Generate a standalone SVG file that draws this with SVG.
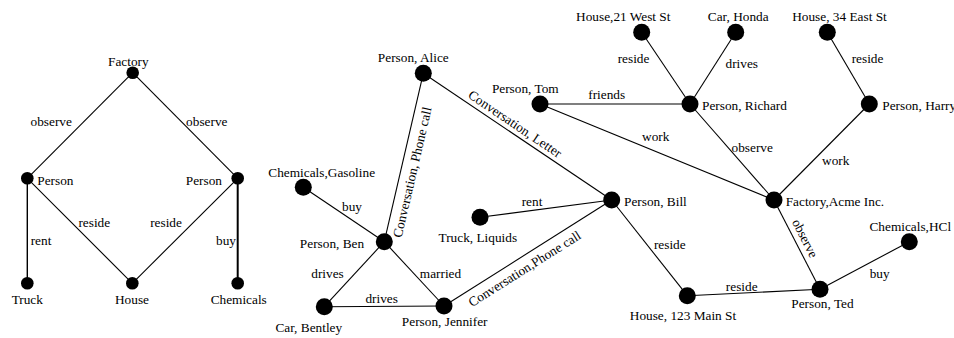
<svg xmlns="http://www.w3.org/2000/svg" width="954" height="338" viewBox="0 0 954 338">
<style>
  .e { stroke: #000; stroke-width: 1.1; fill: none; }
  .n { fill: #000; }
  text { font-family: "Liberation Serif", "Times New Roman", serif; font-size: 13.3px; fill: #000; }
  .m { text-anchor: middle; }
  .s { text-anchor: start; }
  .r { text-anchor: end; }
</style>
<rect width="954" height="338" fill="#fff"/>
<g id="connectors">
  <!-- left graph -->
  <line class="e" x1="132.7" y1="72.7" x2="27.3" y2="178.3"/>
  <line class="e" x1="132.7" y1="72.7" x2="237.7" y2="178.3"/>
  <line class="e" x1="27.3" y1="178.3" x2="27.3" y2="283.3" style="stroke-width:1.4"/>
  <line class="e" x1="27.3" y1="178.3" x2="132.3" y2="283.3"/>
  <line class="e" x1="237.7" y1="178.3" x2="132.3" y2="283.3"/>
  <line class="e" x1="237.7" y1="178.3" x2="237.7" y2="283.3" style="stroke-width:2"/>
  <!-- middle/right graph -->
  <line class="e" x1="423.3" y1="73.3" x2="384.3" y2="241.7"/>
  <line class="e" x1="423.3" y1="73.3" x2="611.7" y2="200"/>
  <line class="e" x1="540" y1="104" x2="690" y2="104"/>
  <line class="e" x1="540" y1="104" x2="774" y2="200"/>
  <line class="e" x1="303.3" y1="187.3" x2="384.3" y2="241.7"/>
  <line class="e" x1="384.3" y1="241.7" x2="324.3" y2="306.7"/>
  <line class="e" x1="384.3" y1="241.7" x2="444" y2="306"/>
  <line class="e" x1="324.3" y1="306.7" x2="444" y2="306"/>
  <line class="e" x1="444" y1="306" x2="611.7" y2="200"/>
  <line class="e" x1="480" y1="217.3" x2="611.7" y2="200"/>
  <line class="e" x1="611.7" y1="200" x2="687.3" y2="295.7"/>
  <line class="e" x1="641.7" y1="32.3" x2="690" y2="104"/>
  <line class="e" x1="735.7" y1="32.3" x2="690" y2="104"/>
  <line class="e" x1="690" y1="104" x2="774" y2="200"/>
  <line class="e" x1="827.3" y1="32.3" x2="869.3" y2="104"/>
  <line class="e" x1="869.3" y1="104" x2="774" y2="200"/>
  <line class="e" x1="774" y1="200" x2="820" y2="289.3"/>
  <line class="e" x1="687.3" y1="295.7" x2="820" y2="289.3"/>
  <line class="e" x1="820" y1="289.3" x2="909.3" y2="241.7"/>
  <!-- edge labels -->
  <text class="m" x="51.2" y="125.9">observe</text>
  <text class="m" x="206.8" y="125.9">observe</text>
  <text class="s" x="30.7" y="245.4">rent</text>
  <text class="m" x="94.3" y="226.7">reside</text>
  <text class="m" x="166" y="226.7">reside</text>
  <text class="r" x="236" y="245.4">buy</text>

  <text class="m" transform="translate(416.6,173.2) rotate(-76.96)">Conversation, Phone call</text>
  <text class="m" transform="translate(512.6,127.6) rotate(33.92)">Conversation, Letter</text>
  <text class="m" transform="translate(527.0,272.5) rotate(-32.29)">Conversation,Phone call</text>
  <text class="m" transform="translate(801.1,240.3) rotate(62.75)">observe</text>
  <text class="m" x="352" y="211">buy</text>
  <text class="m" x="327.5" y="278">drives</text>
  <text class="m" x="440.5" y="278">married</text>
  <text class="m" x="381.7" y="302.5">drives</text>
  <text class="m" x="532" y="206">rent</text>
  <text class="m" x="633.5" y="63">reside</text>
  <text class="m" x="741.8" y="68">drives</text>
  <text class="m" x="867.5" y="63">reside</text>
  <text class="m" x="606.7" y="99">friends</text>
  <text class="m" x="655.7" y="140.5">work</text>
  <text class="m" x="752.2" y="152">observe</text>
  <text class="m" x="835.7" y="165">work</text>
  <text class="m" x="669.8" y="249">reside</text>
  <text class="m" x="741.7" y="290.5">reside</text>
  <text class="m" x="879.7" y="277.5">buy</text>
</g>

<g id="factory"><circle class="n" cx="132.7" cy="72.7" r="6.3"/><text class="m" x="128.3" y="66">Factory</text></g>
<g id="person-left"><circle class="n" cx="27.3" cy="178.3" r="6.3"/><text class="s" x="37.3" y="185">Person</text></g>
<g id="person-right"><circle class="n" cx="237.7" cy="178.3" r="6.3"/><text class="r" x="222" y="185">Person</text></g>
<g id="truck"><circle class="n" cx="27.3" cy="283.3" r="6.3"/><text class="m" x="27.3" y="304">Truck</text></g>
<g id="house"><circle class="n" cx="132.3" cy="283.3" r="6.3"/><text class="m" x="132" y="304">House</text></g>
<g id="chemicals"><circle class="n" cx="237.7" cy="283.3" r="6.3"/><text class="m" x="238.7" y="304">Chemicals</text></g>

<g id="alice"><circle class="n" cx="423.3" cy="73.3" r="8.5"/><text class="m" x="413.3" y="62">Person, Alice</text></g>
<g id="tom"><circle class="n" cx="540" cy="104" r="8.5"/><text class="m" x="525.3" y="93">Person, Tom</text></g>
<g id="gasoline"><circle class="n" cx="303.3" cy="187.3" r="8.5"/><text class="m" x="321.7" y="177">Chemicals,Gasoline</text></g>
<g id="truck-liquids"><circle class="n" cx="480" cy="217.3" r="8.5"/><text class="m" x="477.8" y="242">Truck, Liquids</text></g>
<g id="ben"><circle class="n" cx="384.3" cy="241.7" r="8.5"/><text class="m" x="332" y="248">Person, Ben</text></g>
<g id="bentley"><circle class="n" cx="324.3" cy="306.7" r="8.5"/><text class="m" x="308.8" y="332">Car, Bentley</text></g>
<g id="jennifer"><circle class="n" cx="444" cy="306" r="8.5"/><text class="m" x="444.7" y="326">Person, Jennifer</text></g>
<g id="bill"><circle class="n" cx="611.7" cy="200" r="8.5"/><text class="s" x="624" y="206">Person, Bill</text></g>
<g id="house21"><circle class="n" cx="641.7" cy="32.3" r="8.5"/><text class="m" x="623.3" y="20.5">House,21 West St</text></g>
<g id="honda"><circle class="n" cx="735.7" cy="32.3" r="8.5"/><text class="m" x="738.2" y="20.5">Car, Honda</text></g>
<g id="house34"><circle class="n" cx="827.3" cy="32.3" r="8.5"/><text class="m" x="839.5" y="20.5">House, 34 East St</text></g>
<g id="richard"><circle class="n" cx="690" cy="104" r="8.5"/><text class="s" x="702" y="110">Person, Richard</text></g>
<g id="harry"><circle class="n" cx="869.3" cy="104" r="8.5"/><text class="s" x="882.3" y="110">Person, Harry</text></g>
<g id="acme"><circle class="n" cx="774" cy="200" r="8.5"/><text class="s" x="785.7" y="206">Factory,Acme Inc.</text></g>
<g id="hcl"><circle class="n" cx="909.3" cy="241.7" r="8.5"/><text class="m" x="910.3" y="230.5">Chemicals,HCl</text></g>
<g id="ted"><circle class="n" cx="820" cy="289.3" r="8.5"/><text class="m" x="822.5" y="308">Person, Ted</text></g>
<g id="house123"><circle class="n" cx="687.3" cy="295.7" r="8.5"/><text class="m" x="683" y="319.5">House, 123 Main St</text></g>
</svg>
